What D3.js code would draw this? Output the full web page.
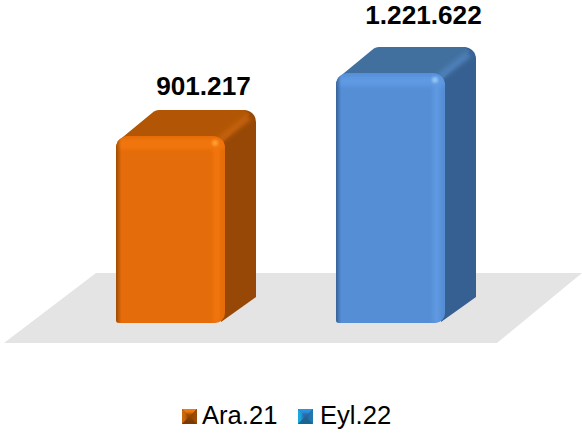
<!DOCTYPE html>
<html>
<head>
<meta charset="utf-8">
<script src="https://cdn.jsdelivr.net/npm/d3@7"></script>
<style>
  html, body { margin: 0; padding: 0; background: #fff; }
  text { font-family: "Liberation Sans", Arial, sans-serif; fill: #000; }
</style>
</head>
<body>
<script>
const categories = ['Ara.21', 'Eyl.22'];
const values = [901217, 1221622];
const labels = ['901.217', '1.221.622'];

const palettes = [
    { front: '#e46c0a', top: '#b25605', side: '#974806', light: '#f2760b', spot: '#ff9d35', ridge: '#c2610a', edge: '#8a4205' },
    { front: '#558ed5', top: '#41709f', side: '#376092', light: '#5f9ae2', spot: '#93c4f5', ridge: '#4d7fb8', edge: '#2d5488' }
];
const keyColors = [
    { t: '#ee7a10', l: '#c8690f', b: '#7a3a05', r: '#9c4c06', c: '#8c4405' },
    { t: '#2b93e2', l: '#1ba6de', b: '#17668f', r: '#1f78b0', c: '#2f5f98' }
];

const width = 582, height = 437;
const depth = { x: 31, y: -26 };

const x = d3.scaleBand().domain(categories).range([116, 445]).paddingInner(0.5045);
// the floor of the 3D plot sits a little under zero
const y = d3.scaleLinear().domain([-50000, 1400000]).range([323, 37.9]);
const labelY = d3.scaleLinear().domain([901217, 1221622]).range([95, 24]);

const svg = d3.select('body').append('svg')
    .attr('width', width).attr('height', height)
    .style('display', 'block');

const defs = svg.append('defs');
[[0.8, 'blur1'], [2, 'blur2']].forEach(([s, id]) => {
    defs.append('filter').attr('id', id)
        .attr('x', '-50%').attr('y', '-50%').attr('width', '200%').attr('height', '200%')
        .append('feGaussianBlur').attr('stdDeviation', s);
});

// floor
const floor = d3.path();
floor.moveTo(4, 343);
floor.lineTo(497, 343);
floor.lineTo(582, 273);
floor.lineTo(96, 273);
floor.closePath();
svg.append('path').attr('d', floor.toString()).attr('fill', '#e4e4e4');

const frontPath = (l, r, t, b) => {
    const p = d3.path();
    p.moveTo(l, t + 12);
    p.arcTo(l, t, l + 12, t, 12);
    p.lineTo(r - 12, t);
    p.arcTo(r, t, r, t + 12, 12);
    p.lineTo(r, b - 10);
    p.arcTo(r, b, r - 10, b, 10);
    p.lineTo(l + 3, b);
    p.arcTo(l, b, l, b - 3, 3);
    p.closePath();
    return p.toString();
};

const bar = svg.selectAll('.bar')
    .data(categories.map((c, i) => ({ c, i, v: values[i], pal: palettes[i] })))
    .join('g').attr('class', 'bar');

bar.each(function (d) {
    const g = d3.select(this);
    const l = x(d.c), r = l + x.bandwidth(), t = y(d.v), b = y.range()[0];
    const pal = d.pal;

    // side wall
    const side = d3.path();
    side.moveTo(r - 10, t + 2);
    side.lineTo(r + depth.x - 12, t + depth.y);
    side.arcTo(r + depth.x, t + depth.y, r + depth.x, t + depth.y + 12, 12);
    side.lineTo(r + depth.x, b + depth.y);
    side.lineTo(r - 4, b - 1);
    side.closePath();
    g.append('path').attr('d', side.toString()).attr('fill', pal.side);

    // top face
    const top = d3.path();
    top.moveTo(l + 2, t + 5);
    top.lineTo(l + depth.x + 5, t + depth.y + 3);
    top.arcTo(l + depth.x + 9, t + depth.y, l + depth.x + 14, t + depth.y, 8);
    top.lineTo(r + depth.x - 12, t + depth.y);
    top.lineTo(r + depth.x - 6, t + depth.y + 4);
    top.lineTo(r - 4, t + 8);
    top.closePath();
    g.append('path').attr('d', top.toString()).attr('fill', pal.top);

    // soft ridge from the front corner to the back corner
    g.append('line')
        .attr('x1', r - 6).attr('y1', t + 4)
        .attr('x2', r + depth.x - 7).attr('y2', t + depth.y + 7)
        .attr('stroke', pal.ridge).attr('stroke-width', 7)
        .attr('filter', 'url(#blur2)');

    // front face, bevels clipped to it
    const id = 'clip' + d.i;
    defs.append('clipPath').attr('id', id)
        .append('path').attr('d', frontPath(l, r, t, b));
    g.append('path').attr('d', frontPath(l, r, t, b)).attr('fill', pal.front);

    const bevel = g.append('g').attr('clip-path', `url(#${id})`);
    bevel.append('rect').attr('x', l - 6).attr('y', t + 3)
        .attr('width', r - l + 6).attr('height', 10)
        .attr('fill', pal.light).attr('filter', 'url(#blur2)');
    bevel.append('rect').attr('x', r - 12).attr('y', t + 3)
        .attr('width', 7).attr('height', b - t - 3)
        .attr('fill', pal.light).attr('filter', 'url(#blur2)');
    bevel.append('rect').attr('x', l - 3).attr('y', t)
        .attr('width', 5).attr('height', b - t + 2)
        .attr('fill', pal.edge).attr('filter', 'url(#blur2)');
    bevel.append('circle').attr('cx', r - 10).attr('cy', t + 7).attr('r', 3)
        .attr('fill', pal.spot).attr('filter', 'url(#blur1)');

    // value label
    g.append('text')
        .attr('x', (l + r) / 2 + 33)
        .attr('y', labelY(d.v))
        .attr('text-anchor', 'middle')
        .attr('font-size', 26.2)
        .attr('font-weight', 700)
        .text(labels[d.i]);
});

// legend
const keyX = [182, 298], textX = [202, 320];
const legend = svg.selectAll('.key')
    .data(categories)
    .join('g').attr('class', 'key')
    .attr('transform', (d, i) => `translate(${keyX[i]},409)`);

legend.each(function (d, i) {
    const g = d3.select(this), k = keyColors[i], s = 15;
    const tri = (pts, fill) => g.append('polygon').attr('points', pts).attr('fill', fill);
    g.append('rect').attr('width', s).attr('height', s).attr('fill', k.c);
    tri(`0,0 ${s},0 ${s / 2},${s / 2}`, k.t);
    tri(`0,0 0,${s} ${s / 2},${s / 2}`, k.l);
    tri(`0,${s} ${s},${s} ${s / 2},${s / 2}`, k.b);
    tri(`${s},0 ${s},${s} ${s / 2},${s / 2}`, k.r);
    g.append('rect').attr('x', 4).attr('y', 4).attr('width', s - 8).attr('height', s - 8)
        .attr('fill', k.c).attr('opacity', 0.8).attr('filter', 'url(#blur1)');
    g.append('text')
        .attr('x', textX[i] - keyX[i]).attr('y', 15)
        .attr('font-size', 25.6)
        .text(d);
});
</script>
</body>
</html>
